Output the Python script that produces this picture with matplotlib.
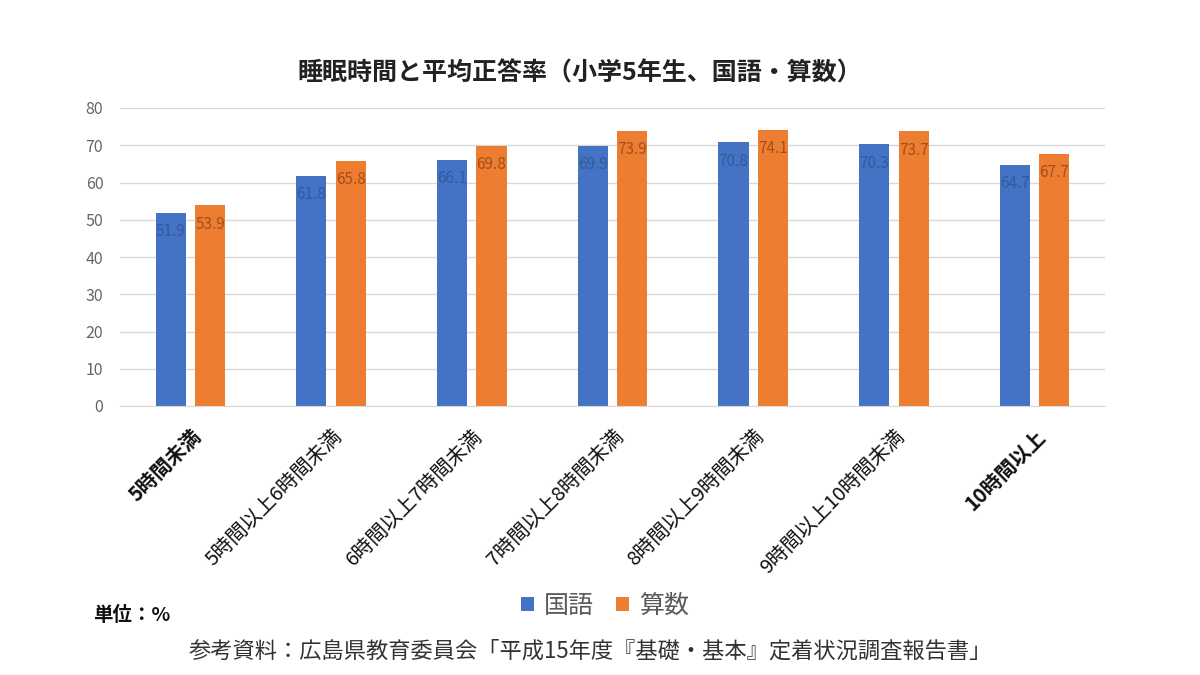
import matplotlib.pyplot as plt
import numpy as np

plt.rcParams['font.family'] = ['Noto Sans CJK JP', 'DejaVu Sans']

categories = ['5時間未満', '5時間以上6時間未満', '6時間以上7時間未満', '7時間以上8時間未満',
              '8時間以上9時間未満', '9時間以上10時間未満', '10時間以上']
kokugo = [51.9, 61.8, 66.1, 69.9, 70.8, 70.3, 64.7]
sansu = [53.9, 65.8, 69.8, 73.9, 74.1, 73.7, 67.7]
bold_labels = {'5時間未満', '10時間以上'}

BLUE = '#4472C4'
ORANGE = '#ED7D31'

fig = plt.figure(figsize=(12, 6.75), dpi=100)
ax = fig.add_axes([120 / 1200, 1 - 406 / 675, 985 / 1200, 298 / 675])

x = np.arange(len(categories))
w = 0.215
off = 0.14
b1 = ax.bar(x - off, kokugo, w, color=BLUE, label='国語', zorder=2)
b2 = ax.bar(x + off, sansu, w, color=ORANGE, label='算数', zorder=2)

# value labels sit just inside the top of each bar
for bars, vals, col in ((b1, kokugo, '#34599c'), (b2, sansu, '#a34f1c')):
    for r, v in zip(bars, vals):
        ax.text(r.get_x() + r.get_width() / 2, v - 2.8, f'{v:.1f}', ha='center', va='top',
                fontsize=11, color=col, zorder=3)

ax.set_xlim(-0.5, len(categories) - 0.5)
ax.set_ylim(0, 80)
ax.set_yticks(range(0, 81, 10))
ax.yaxis.grid(True, color='#D9D9D9', linewidth=1, zorder=0)
ax.tick_params(axis='y', length=0, labelsize=11.5, labelcolor='#666666', pad=12)
ax.tick_params(axis='x', length=0, pad=14)
for s in ('top', 'right', 'left'):
    ax.spines[s].set_visible(False)
ax.spines['bottom'].set_color('#D9D9D9')

ax.set_xticks(x)
ax.set_xticklabels(categories, rotation=45, ha='right', rotation_mode='anchor', fontsize=14.5)
for t in ax.get_xticklabels():
    if t.get_text() in bold_labels:
        t.set_fontweight('bold')
    t.set_color('#111111')

fig.text(580 / 1200, 1 - 73 / 675, '睡眠時間と平均正答率（小学5年生、国語・算数）',
         ha='center', va='center', fontsize=18, fontweight='bold', color='#222222')

fig.legend(handles=[b1, b2], loc='center', bbox_to_anchor=(605 / 1200, 1 - 606 / 675),
           ncol=2, frameon=False, fontsize=18, handlelength=0.5, handleheight=0.5,
           handletextpad=0.4, columnspacing=0.9, labelcolor='#595959')

fig.text(93 / 1200, 1 - 615 / 675, '単位：%', ha='left', va='center', fontsize=14,
         fontweight='bold', color='#111111')
fig.text(590 / 1200, 1 - 651 / 675, '参考資料：広島県教育委員会「平成15年度『基礎・基本』定着状況調査報告書」',
         ha='center', va='center', fontsize=16, color='#333333')

fig.savefig('out.png', dpi=100, facecolor='white')
